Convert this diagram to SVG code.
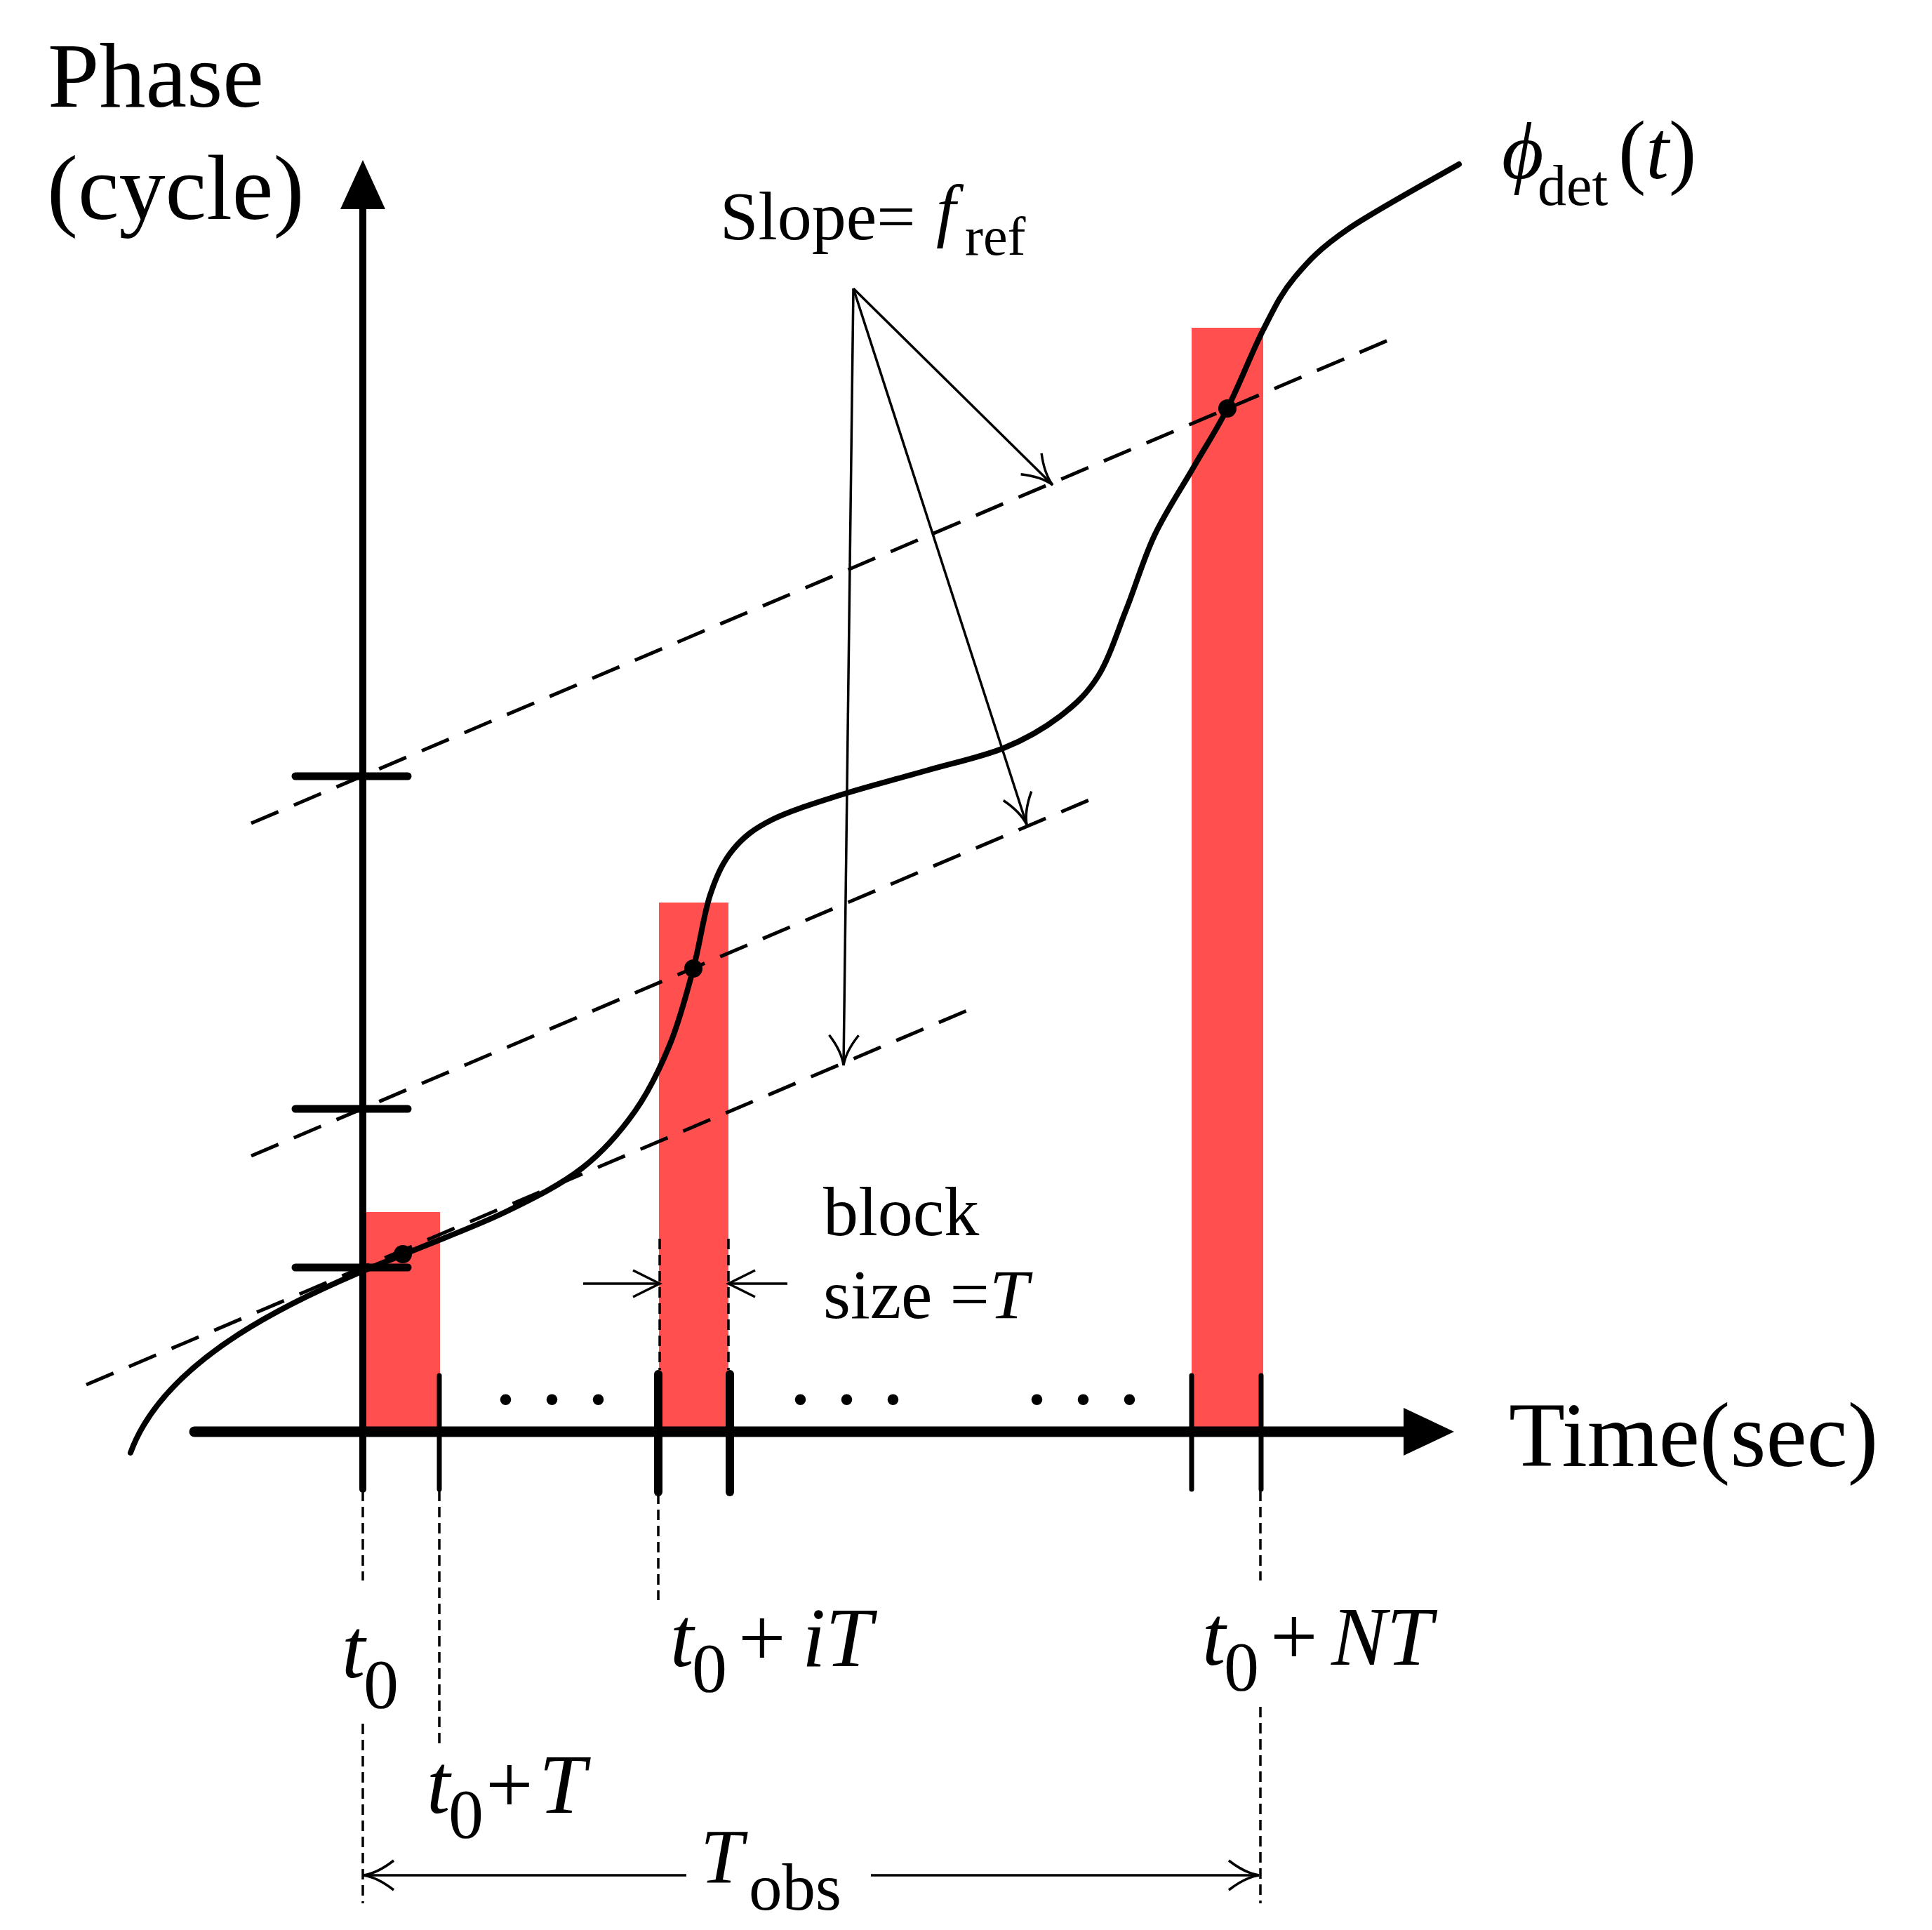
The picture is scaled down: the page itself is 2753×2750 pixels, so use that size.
<svg xmlns="http://www.w3.org/2000/svg" width="2753" height="2750" viewBox="0 0 2753 2750">
<style>
text{font-family:"Liberation Serif","Times New Roman",serif;fill:#000}
.it{font-style:italic}
.bar{fill:#FF4F4F}
.dash{fill:none;stroke:#000;stroke-width:5;stroke-dasharray:42 24}
.vdash{fill:none;stroke:#000;stroke-width:3.5;stroke-dasharray:15 8}
.thin{fill:none;stroke:#000;stroke-width:3.5}
.tick{stroke:#000;stroke-linecap:round}
</style>
<defs>
<marker id="curved" viewBox="-50 -30 60 60" refX="0" refY="0" markerWidth="60" markerHeight="60" markerUnits="userSpaceOnUse" orient="auto">
<path d="M-43,-21 Q-20,-3 0,0 Q-20,3 -43,21" fill="none" stroke="#000" stroke-width="3.5"/>
</marker>
<marker id="straight" viewBox="-50 -30 60 60" refX="0" refY="0" markerWidth="60" markerHeight="60" markerUnits="userSpaceOnUse" orient="auto">
<path d="M-38,-19 L0,0 L-38,19" fill="none" stroke="#000" stroke-width="3.5"/>
</marker>
</defs>
<rect width="2753" height="2750" fill="#fff"/>

<g id="blocks">
<rect class="bar" x="522" y="1727" width="105" height="313"/>
<rect class="bar" x="939" y="1286" width="99" height="754"/>
<rect class="bar" x="1698" y="467" width="102" height="1573"/>
</g>

<g id="connectors">
<line class="dash" x1="358" y1="1173" x2="1980" y2="484"/>
<line class="dash" x1="358" y1="1647" x2="1554" y2="1139"/>
<line class="dash" x1="123" y1="1973" x2="1387" y2="1436"/>
<line class="thin" x1="1216" y1="411" x2="1500" y2="691" marker-end="url(#curved)"/>
<line class="thin" x1="1216" y1="411" x2="1463" y2="1175" marker-end="url(#curved)"/>
<line class="thin" x1="1216" y1="411" x2="1202" y2="1518" marker-end="url(#curved)"/>
<line class="vdash" x1="940" y1="1765" x2="940" y2="1952"/>
<line class="vdash" x1="1038" y1="1765" x2="1038" y2="1952"/>
<line class="thin" x1="831" y1="1829" x2="940" y2="1829" marker-end="url(#straight)"/>
<line class="thin" x1="1122" y1="1829" x2="1038" y2="1829" marker-end="url(#straight)"/>
<line class="vdash" x1="517" y1="2124" x2="517" y2="2252"/>
<line class="vdash" x1="517" y1="2456" x2="517" y2="2712"/>
<line class="vdash" x1="626" y1="2124" x2="626" y2="2485"/>
<line class="vdash" x1="938" y1="2128" x2="938" y2="2280"/>
<line class="vdash" x1="1796" y1="2124" x2="1796" y2="2252"/>
<line class="vdash" x1="1796" y1="2432" x2="1796" y2="2712"/>
<line class="thin" x1="978" y1="2672" x2="518" y2="2672" marker-end="url(#curved)"/>
<line class="thin" x1="1241" y1="2672" x2="1794" y2="2672" marker-end="url(#curved)"/>
</g>

<g id="phase-curve">
<path fill="none" stroke="#000" stroke-width="8" stroke-linecap="round" stroke-linejoin="round" d="M186,2070 C235,1935 420,1848 574,1788 C627.3,1765.5 677.3,1747.7 720,1727 S799.2,1688 830,1664 S884.2,1612.5 905,1583 S941.2,1520.8 955,1487 S978.5,1415.3 988,1380 S1002.5,1303.3 1012,1275 S1030.3,1227.8 1045,1210 S1074.2,1181 1100,1168 S1163.3,1143.7 1200,1132 S1281.7,1109 1320,1098 S1398.3,1078.8 1430,1066 S1487.5,1038.2 1510,1021 S1549.2,988.5 1565,963 S1591.7,901.3 1605,868 S1629.2,796.5 1645,763 S1682.7,697.2 1700,667 S1732.3,614.8 1749,582 S1784,501.2 1800,470 S1825,418.8 1845,395 S1881,353.8 1920,327 S2052.5,249.5 2079,234"/>
<circle cx="574" cy="1787" r="13"/>
<circle cx="988" cy="1380" r="13"/>
<circle cx="1749" cy="582" r="13"/>
</g>

<g id="axes">
<line class="tick" x1="517" y1="2122" x2="517" y2="290" stroke-width="10"/>
<polygon points="517,228 485,298 549,298"/>
<line x1="277" y1="2040" x2="2004" y2="2040" stroke="#000" stroke-width="15" stroke-linecap="round"/>
<polygon points="2000,2006 2072,2040 2000,2074"/>
<line class="tick" x1="421" y1="1106" x2="581" y2="1106" stroke-width="11"/>
<line class="tick" x1="421" y1="1580" x2="581" y2="1580" stroke-width="11"/>
<line class="tick" x1="421" y1="1806" x2="581" y2="1806" stroke-width="11"/>
<line class="tick" x1="626" y1="1960" x2="626" y2="2122" stroke-width="7"/>
<line class="tick" x1="938" y1="1958" x2="938" y2="2126" stroke-width="12"/>
<line class="tick" x1="1040" y1="1958" x2="1040" y2="2126" stroke-width="12"/>
<line class="tick" x1="1698" y1="1960" x2="1698" y2="2122" stroke-width="7"/>
<line class="tick" x1="1797" y1="1960" x2="1797" y2="2122" stroke-width="7"/>
</g>

<g id="labels">
<text x="68" y="152" font-size="132">Phase</text>
<text x="67" y="312" font-size="132">(cycle)</text>
<text x="2150" y="2089" font-size="131">Time(sec)</text>
<text x="704" y="2000" font-size="132">. . .</text>
<text x="1124" y="2000" font-size="132">. . .</text>
<text x="1461" y="2000" font-size="132">. . .</text>
<text x="1026" y="341" font-size="98">Slope=</text>
<text class="it" x="1334" y="333" font-size="100">f</text>
<text x="1375" y="363" font-size="78">ref</text>
<text class="it" x="2140" y="254" font-size="115">ϕ</text>
<text x="2191" y="292" font-size="82">det</text>
<text x="2306" y="254" font-size="118">(<tspan class="it">t</tspan>)</text>
<text x="1173" y="1760" font-size="100">block</text>
<text x="1173" y="1878" font-size="100">size =<tspan class="it">T</tspan></text>
<text class="it" x="487" y="2390" font-size="120">t</text>
<text x="518" y="2433" font-size="100">0</text>
<text class="it" x="955" y="2374" font-size="120">t</text>
<text x="986" y="2410" font-size="100">0</text>
<text x="1052" y="2374" font-size="120">+</text>
<text class="it" x="1143" y="2374" font-size="120">iT</text>
<text class="it" x="1713" y="2372" font-size="120">t</text>
<text x="1744" y="2408" font-size="100">0</text>
<text x="1810" y="2372" font-size="120">+</text>
<text class="it" x="1897" y="2372" font-size="118">NT</text>
<text class="it" x="608" y="2583" font-size="120">t</text>
<text x="639" y="2618" font-size="100">0</text>
<text x="692" y="2583" font-size="120">+</text>
<text class="it" x="768" y="2583" font-size="120">T</text>
<text class="it" x="998" y="2683" font-size="110">T</text>
<text x="1067" y="2721" font-size="95">obs</text>
</g>
</svg>
